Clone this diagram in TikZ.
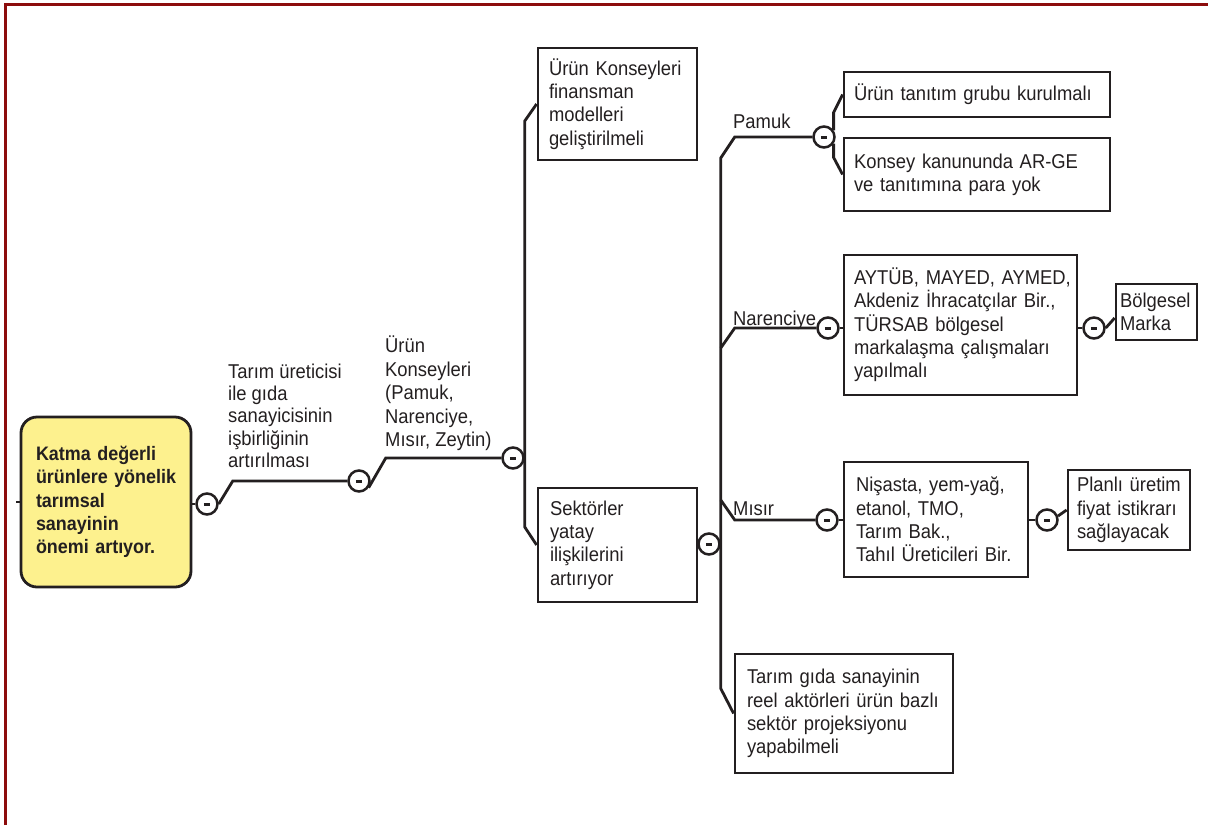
\documentclass[tikz,border=0pt]{standalone}
\usepackage{fontspec}
\setmainfont{Liberation Sans}[FakeStretch=0.92]
\definecolor{bordred}{RGB}{140,12,12}
\definecolor{rootfill}{RGB}{253,241,142}
\definecolor{ink}{RGB}{35,31,32}
\newcommand\keepln[1]{\mbox{#1}}
\begin{document}
\begin{tikzpicture}[x=1pt,y=-1pt,
  every node/.style={text=ink},
  conn/.style={draw=ink,line width=2.8pt},
  txt/.style={font=\fontsize{20}{23.3}\selectfont},
  boxn/.style={draw=ink,line width=2.8pt,rectangle,align=left,txt,inner ysep=0pt},
  minus/.style={circle,draw=ink,fill=white,line width=2.5pt,minimum size=21pt,inner sep=0pt},
  lbl/.style={txt,align=left,inner sep=0pt}]
\useasboundingbox (0,0) rectangle (1208,825);
% frame
\draw[line width=3pt,bordred,line join=miter] (5.5,825) -- (5.5,4) -- (1208,4);

% root
\node[draw=ink,line width=2.8pt,rounded corners=16pt,fill=rootfill,
  minimum width=170pt,minimum height=170pt,text width=140pt,inner xsep=15pt,inner ysep=0pt,
  align=left,font=\bfseries\fontsize{19.5}{23.3}\selectfont] (root) at (106,502)
  {\keepln{Katma değerli}\\\keepln{ürünlere yönelik}\\tarımsal\\sanayinin\\\keepln{önemi artıyor.}};

% minus circles
\node[minus] (c1) at (207,504) {\rule{6.5pt}{3pt}};
\node[minus] (c2) at (359,481) {\rule{6.5pt}{3pt}};
\node[minus] (c3) at (513,458) {\rule{6.5pt}{3pt}};
\node[minus] (c4) at (709,544) {\rule{6.5pt}{3pt}};
\node[minus] (c5) at (824,137) {\rule{6.5pt}{3pt}};
\node[minus] (c6) at (828,328) {\rule{6.5pt}{3pt}};
\node[minus] (c7) at (1094,328) {\rule{6.5pt}{3pt}};
\node[minus] (c8) at (827,520) {\rule{6.5pt}{3pt}};
\node[minus] (c9) at (1047,520) {\rule{6.5pt}{3pt}};

% boxes
\node[boxn,minimum width=159pt,minimum height=112pt,text width=137pt,inner xsep=11pt] (B1) at (617.5,104)
  {Ürün Konseyleri\\finansman\\modelleri\\geliştirilmeli};
\node[boxn,minimum width=159pt,minimum height=114pt,text width=135pt,inner xsep=12pt] (B2) at (617.5,545)
  {Sektörler\\yatay\\ilişkilerini\\artırıyor};
\node[boxn,minimum width=266pt,minimum height=45pt,text width=246pt,inner xsep=10pt] (BA) at (977,94.5)
  {Ürün tanıtım grubu kurulmalı};
\node[boxn,minimum width=266pt,minimum height=73pt,text width=246pt,inner xsep=10pt] (BB) at (977,174.5)
  {Konsey kanununda AR-GE\\ve tanıtımına para yok};
\node[boxn,minimum width=233pt,minimum height=140pt,text width=213pt,inner xsep=10pt] (BC) at (960.5,325)
  {\keepln{AYTÜB, MAYED, AYMED,}\\\keepln{Akdeniz İhracatçılar Bir.,}\\TÜRSAB bölgesel\\\keepln{markalaşma çalışmaları}\\yapılmalı};
\node[boxn,minimum width=81pt,minimum height=56pt,text width=73pt,inner xsep=4pt] (BD) at (1156.5,312)
  {\keepln{Bölgesel}\\Marka};
\node[boxn,minimum width=184pt,minimum height=115pt,text width=160pt,inner xsep=12pt] (BE) at (936,519.5)
  {Nişasta, yem-yağ,\\etanol, TMO,\\Tarım Bak.,\\\keepln{Tahıl Üreticileri Bir.}};
\node[boxn,minimum width=122pt,minimum height=80pt,text width=104pt,inner xsep=9pt] (BF) at (1129,510)
  {\keepln{Planlı üretim}\\\keepln{fiyat istikrarı}\\sağlayacak};
\node[boxn,minimum width=218pt,minimum height=119pt,text width=194pt,inner xsep=12pt] (BG) at (844,713.5)
  {Tarım gıda sanayinin\\\keepln{reel aktörleri ürün bazlı}\\sektör projeksiyonu\\yapabilmeli};

% labels
\node[lbl,anchor=north west,font=\fontsize{20}{22.3}\selectfont] (L1) at (228,363.6)
  {Tarım üreticisi\\ile gıda\\sanayicisinin\\işbirliğinin\\artırılması};
\node[lbl,anchor=north west,font=\fontsize{20}{23.5}\selectfont] (L2) at (385,335.7)
  {Ürün\\Konseyleri\\(Pamuk,\\Narenciye,\\Mısır, Zeytin)};
\node[lbl,anchor=base west] (Lp) at (733,128) {Pamuk};
\node[lbl,anchor=base west] (Ln) at (733,325) {Narenciye};
\node[lbl,anchor=base west] (Lm) at (733,515) {Mısır};

% connectors
\draw[conn] (root.west) -- ([xshift=-4pt]root.west);
\draw[conn] (root.east |- c1.west) -- (c1.west);
\draw[conn] (c1.east) -- ([xshift=14pt]c1.east |- c2.west) -- (c2.west);
\draw[conn] (c2.-35) -- ([xshift=15pt]c2.east |- c3.west) -- (c3.west);
\draw[conn] (B1.west) -- ([yshift=-17pt]B1.west -| c3.east) -- ([yshift=18pt]B2.west -| c3.east) -- (B2.west);
\draw[conn] (B2.east |- c4.west) -- (c4.west);
\draw[conn] (c5.west) -- ([xshift=14pt]c4.east |- c5.west) -- ([yshift=-21pt]c5.west -| c4.east)
  -- ([yshift=25pt]BG.west -| c4.east) -- (BG.west);
\draw[conn] ([yshift=-20pt]c6.west -| c4.east) -- ([xshift=14pt]c4.east |- c6.west) -- (c6.west);
\draw[conn] ([yshift=20pt]c8.west -| c4.east) -- ([xshift=14pt]c4.east |- c8.west) -- (c8.west);
\draw[conn] (c5.35) -- ([yshift=-18pt]BA.west -| c5.35) -- (BA.west);
\draw[conn] (c5.-35) -- ([yshift=17pt]BB.west -| c5.-35) -- (BB.west);
\draw[conn] (c6.east) -- (BC.west |- c6.east);
\draw[conn] (BC.east |- c7.west) -- (c7.west);
\draw[conn] (c7.east) -- ([yshift=-6pt]BD.west);
\draw[conn] (c8.east) -- (BE.west |- c8.east);
\draw[conn] (BE.east |- c9.west) -- (c9.west);
\draw[conn] (c9.20) -- (BF.west);
\end{tikzpicture}
\end{document}
